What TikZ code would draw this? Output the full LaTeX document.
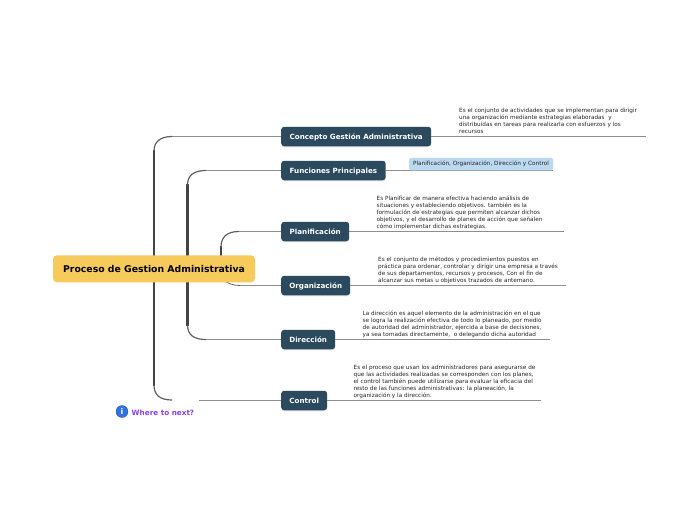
\documentclass[tikz,border=0pt]{standalone}
\usepackage{fontspec}
\setmainfont{DejaVu Sans}
\usetikzlibrary{shadows}
\definecolor{nodeblue}{HTML}{2C4A5E}
\definecolor{rootyellow}{HTML}{F6CB5C}
\definecolor{spine}{HTML}{444444}
\definecolor{thinline}{HTML}{8E8E8E}
\definecolor{chip}{HTML}{BBD9F0}
\definecolor{nexttext}{HTML}{8A3FF0}
\definecolor{infoblue}{HTML}{2F74E0}
\tikzset{
  branchnode/.style={fill=nodeblue,text=white,rounded corners=3pt,anchor=west,minimum height=19.5pt,inner xsep=0pt,inner ysep=0pt,text height=7.3pt,text depth=1.5pt,font=\fontsize{7.15}{8}\selectfont\bfseries,align=center,drop shadow={opacity=.18,shadow xshift=0pt,shadow yshift=-1pt}},
  rootnode/.style={fill=rootyellow,rounded corners=4pt,inner sep=0pt,text=black,font=\fontsize{9.3}{10}\selectfont\bfseries},
  desc/.style={anchor=south west,inner sep=0pt,align=left,text=black!85,font=\fontsize{5.72}{7}\selectfont},
  thick spine/.style={draw=spine,line width=2.2pt},
  curve part/.style={draw=spine!85,line width=1.2pt},
  thin branch/.style={draw=thinline,line width=.8pt},
  detail/.style={draw=thinline,line width=.8pt},
}
\begin{document}
\begin{tikzpicture}[x=1pt,y=-1pt]
\useasboundingbox (0,0) rectangle (697,520);
% free ends
\coordinate (e1) at (646,136.5);
\coordinate (e2) at (553,170.5);
\coordinate (e3) at (564,231.5);
\coordinate (e4) at (566,285.5);
\coordinate (e5) at (550,339.5);
\coordinate (e6) at (541,400.5);
\coordinate (gap) at (199,400.5);

% nodes
\node[branchnode,minimum width=150pt] (n1) at (281,136.5) {Concepto Gestión Administrativa};
\node[branchnode,minimum width=104.5pt] (n2) at (281,170.5) {Funciones Principales};
\node[branchnode,minimum width=68pt] (n3) at (281,231.5) {Planificación};
\node[branchnode,minimum width=69pt] (n4) at (281,285.5) {Organización};
\node[branchnode,minimum width=54pt] (n5) at (281,339.5) {Dirección};
\node[branchnode,minimum width=46pt] (n6) at (281,400.5) {Control};

% branches behind the root
\draw[thick spine] (154,150) -- (154,386);
\draw[thick spine] (187.5,184) -- (187.5,326);
\draw[thick spine] (221,246) -- (221,268);
\draw[curve part] (154,151) .. controls (154,142) and (160,136.5) .. (172,136.5);
\draw[thin branch] (172,136.5) -- (n1.west);
\draw[curve part] (154,385) .. controls (154,395) and (160,400) .. (172,400);
\draw[thin branch] (gap) -- (n6.west);
\draw[curve part] (187.5,185) .. controls (187.5,175) and (194,170.5) .. (206,170.5);
\draw[thin branch] (206,170.5) -- (n2.west);
\draw[curve part] (187.5,325) .. controls (187.5,335) and (194,339.5) .. (206,339.5);
\draw[thin branch] (206,339.5) -- (n5.west);
\draw[curve part] (221,247) .. controls (221,237) and (227,231.5) .. (239,231.5);
\draw[thin branch] (239,231.5) -- (n3.west);
\draw[curve part,line width=.8pt] (223,280) .. controls (228,283.5) and (233,285.5) .. (240,285.5);
\draw[thin branch] (240,285.5) -- (n4.west);

\node[rootnode,minimum width=202pt,minimum height=27pt] (root) at (154,268.8) {Proceso de Gestion Administrativa};

% detail lines
\draw[detail] (n1.east) -- (e1);
\draw[detail] (n2.east) -- (e2);
\draw[detail] (n3.east) -- (e3);
\draw[detail] (n4.east) -- (e4);
\draw[detail] (n5.east) -- (e5);
\draw[detail] (n6.east) -- (e6);

% texts
\node[desc] (t1) at (459,134) {Es el conjunto de actividades que se implementan para dirigir\\una organización mediante estrategias elaboradas\ \ y\\distribuidas en tareas para realizarla con esfuerzos y los\\recursos};
\node[fill=chip,rounded corners=1.5pt,inner sep=0pt,minimum width=144pt,minimum height=12.5pt,font=\fontsize{5.75}{7}\selectfont,text=black!85] (t2) at (481,164) {Planificación, Organización, Dirección y Control};
\node[desc] (t3) at (376.5,229.6) {Es Planificar de manera efectiva haciendo análisis de\\situaciones y estableciendo objetivos. también es la\\formulación de estrategias que permiten alcanzar dichos\\objetivos, y el desarrollo de planes de acción que señalen\\cómo implementar dichas estrategias.};
\node[desc] (t4) at (378,283.5) {Es el conjunto de métodos y procedimientos puestos en\\práctica para ordenar, controlar y dirigir una empresa a través\\de sus departamentos, recursos y procesos, \raisebox{-.6pt}{Con el fin de}\\alcanzar sus metas u objetivos trazados de antemano.};
\node[desc] (t5) at (362.5,337.5) {La dirección es aquel elemento de la administración en el que\\se logra la realización efectiva de todo lo planeado, por medio\\de autoridad del administrador, ejercida a base de decisiones,\\ya sea tomadas directamente,\ \ o delegando dicha autoridad};
\node[desc] (t6) at (353.5,398.6) {Es el proceso que usan los administradores para asegurarse de\\que las actividades realizadas se corresponden con los planes,\\el control también puede utilizarse para evaluar la eficacia del\\resto de las funciones administrativas: la planeación, la\\organización y la dirección.};

% where to next
\node[circle,fill=infoblue,draw=infoblue!70!black,line width=.3pt,minimum size=12pt,inner sep=0pt,text=white,font=\fontsize{8}{8}\selectfont\bfseries] (info) at (122,411.5) {i};
\node[anchor=west,inner sep=0pt,text=nexttext,font=\fontsize{7.25}{8}\selectfont\bfseries] (next) at (131.5,412.5) {Where to next?};
\end{tikzpicture}
\end{document}
